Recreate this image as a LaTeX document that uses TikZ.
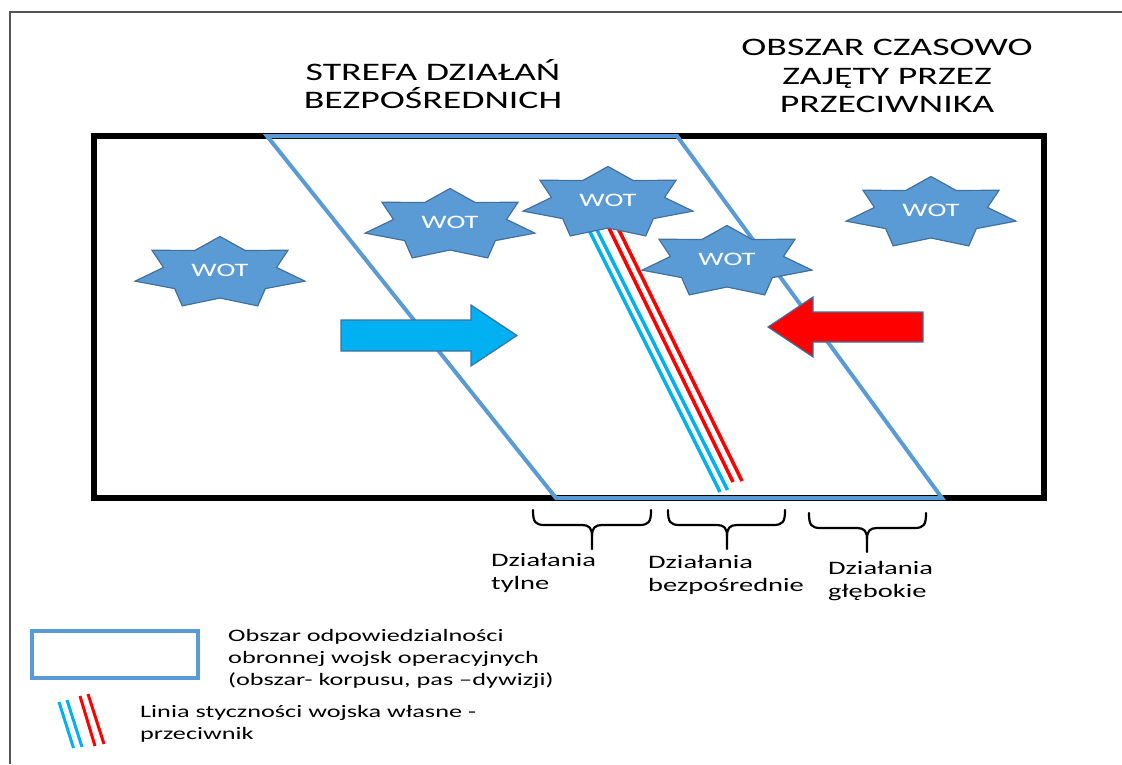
\documentclass[tikz,border=0pt]{standalone}
\usepackage{fontspec}
\setmainfont{Carlito}[FakeStretch=1.5]
\definecolor{pblue}{HTML}{5B9BD5}
\definecolor{sedge}{HTML}{41719C}
\definecolor{ocyan}{HTML}{00B0F0}
\definecolor{ored}{HTML}{FF0000}
\definecolor{framegray}{HTML}{555555}
\tikzset{
  zoneline/.style={draw=pblue, line width=4pt, line join=miter},
  starshape/.style={fill=pblue, draw=sedge, line width=1.2pt, line join=miter},
  wottext/.style={text=white, font=\fontsize{19}{22}\selectfont, inner sep=0pt},
  own/.style={draw=ocyan, line width=3.5pt},
  enemy/.style={draw=ored, line width=3.5pt},
  bigarrow/.style={draw=sedge, line width=1.2pt, line join=miter},
  bracepath/.style={draw=black, line width=2.2pt, line cap=round, line join=round},
  title/.style={align=center, font=\fontsize{25.2}{28.8}\selectfont, inner sep=0pt},
  label/.style={align=left, anchor=west, font=\fontsize{19}{23}\selectfont, inner sep=0pt},
  legendtext/.style={align=left, anchor=west, font=\fontsize{17.5}{22}\selectfont, inner sep=0pt}
}
\newcommand\wotstar[3]{%
  \draw[starshape] plot[variable=\k, samples at={0,...,13}]
    ({#2+(isodd(\k)?58:87)*cos(90+\k*180/7)},{#3-(isodd(\k)?25:36.5)*sin(90+\k*180/7)}) -- cycle;
  \node[wottext] (#1) at (#2,#3-3) {WOT};}
\newcommand\bracedown[4]{% x1, x2, xmid, ytop
  \draw[bracepath] (#1,#4) .. controls (#1,#4+12) and (#1+2,#4+15) .. (#1+12,#4+15)
    -- (#3-10,#4+15) .. controls (#3-3,#4+15) and (#3,#4+18) .. (#3,#4+26) -- (#3,#4+39);
  \draw[bracepath] (#3,#4+26) .. controls (#3,#4+18) and (#3+3,#4+15) .. (#3+10,#4+15)
    -- (#2-12,#4+15) .. controls (#2-2,#4+15) and (#2,#4+12) .. (#2,#4);}
\begin{document}
\begin{tikzpicture}[x=1pt,y=-1pt]
\useasboundingbox (0,0) rectangle (1122,764);
% outer frame
\draw[framegray, line width=1.3pt] (10,764) -- (10,12) -- (1122,12);
% titles
\node[title] (t1) at (433,84) {STREFA DZIAŁAŃ\\BEZPOŚREDNICH};
\node[title] (t2) at (887,76) {OBSZAR CZASOWO\\ZAJĘTY PRZEZ\\PRZECIWNIKA};
% black area
\draw[black, line width=6pt] (93.5,136) rectangle (1044,498);
% zone of responsibility
\draw[zoneline] (267,136) -- (677,136) -- (942,498) -- (556,498) -- cycle;
% arrows
\draw[bigarrow, fill=ocyan] (341,320) -- (471,320) -- (471,305) -- (517,335.5) -- (471,366) -- (471,351) -- (341,351) -- cycle;
\draw[bigarrow, fill=ored] (923,312) -- (813,312) -- (813,297) -- (768,327) -- (813,357) -- (813,342) -- (923,342) -- cycle;
% contact line
\draw[own] (586.5,225) -- (720,492);
\draw[own] (594.5,225) -- (727.5,490);
\draw[enemy] (607.5,225) -- (733,482);
\draw[enemy] (616.5,225) -- (742,481);
% WOT stars
\wotstar{w1}{220}{273}
\wotstar{w2}{450}{225}
\wotstar{w3}{608}{203}
\wotstar{w4}{727}{262}
\wotstar{w5}{931}{213}
% braces and labels
\bracedown{533}{651}{592}{510}
\bracedown{668}{785}{727}{510}
\bracedown{809}{926}{867}{513}
\node[label] (l1) at (491,573) {Działania\\tylne};
\node[label] (l2) at (648,575) {Działania\\bezpośrednie};
\node[label] (l3) at (828,581) {Działania\\głębokie};
% legend
\draw[zoneline] (32,631) rectangle (198,678);
\node[legendtext] (lg1) at (228,659) {Obszar odpowiedzialności\\obronnej wojsk operacyjnych\\(obszar- korpusu, pas –dywizji)};
\draw[own, line width=3pt] (59,702) -- (73.5,748);
\draw[own, line width=3pt] (67,700) -- (82,747);
\draw[enemy, line width=3pt] (80,696) -- (95,746);
\draw[enemy, line width=3pt] (88,694) -- (104,744);
\node[legendtext] (lg2) at (140,724) {Linia styczności wojska własne -\\przeciwnik};
\end{tikzpicture}
\end{document}
